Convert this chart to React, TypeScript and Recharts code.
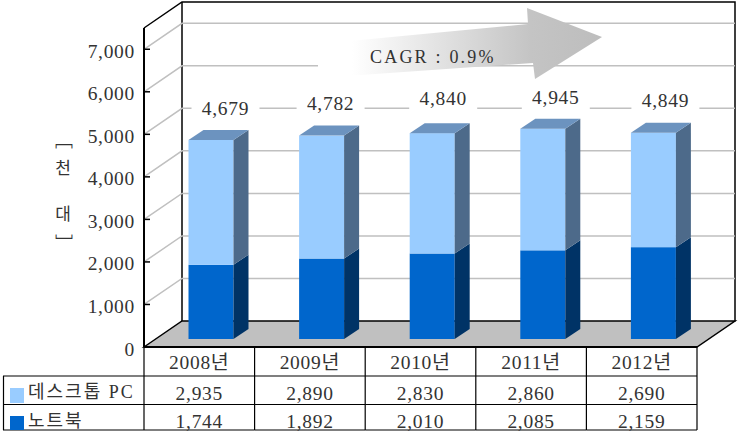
import React from "react";
import { BarChart, Bar, XAxis, YAxis, ReferenceLine, LabelList } from "recharts";

const years = ["2008년", "2009년", "2010년", "2011년", "2012년"];
const desktop = [2935, 2890, 2830, 2860, 2690];
const notebook = [1744, 1892, 2010, 2085, 2159];
const totals = [4679, 4782, 4840, 4945, 4849];
const yTicks = [0, 1000, 2000, 3000, 4000, 5000, 6000, 7000];
const gridTicks = [1000, 2000, 3000, 4000, 5000, 6000, 7000];
const seriesNames = ["데스크톱 PC", "노트북"];

const chartData = years.map((year, i) => ({ year, desktop: desktop[i], notebook: notebook[i] }));

const SERIF = '"Liberation Serif", "Noto Sans CJK KR", serif';
const KOREAN = '"Noto Sans CJK KR", sans-serif';
const TEXT = "#333";
const fmt = new Intl.NumberFormat("en-US");

// wall depth of the fake 3D box, bar position on the floor, bar depth
const WALL_X = 38;
const WALL_Y = 26;
const BAR_SHIFT_X = 11.5;
const BAR_SHIFT_Y = 8;
const BAR_DEPTH_X = 15;
const BAR_DEPTH_Y = 10;
// the total labels were placed by hand in the original
const labelNudgeX = [14.5, 9, 11, 13, 12];
const labelNudgeY = [31, 32, 35, 31, 32];

function box3d(front: string, side: string, top?: string) {
  return function Box(props: any) {
    const x = props.x + BAR_SHIFT_X;
    const y = props.y - BAR_SHIFT_Y;
    const { width: w, height: h } = props;
    const dx = BAR_DEPTH_X;
    const dy = BAR_DEPTH_Y;
    return (
      <g>
        <rect x={x} y={y} width={w} height={h} fill={front} />
        <polygon points={`${x + w},${y} ${x + w + dx},${y - dy} ${x + w + dx},${y + h - dy} ${x + w},${y + h}`} fill={side} />
        {top && <polygon points={`${x},${y} ${x + dx},${y - dy} ${x + w + dx},${y - dy} ${x + w},${y}`} fill={top} />}
      </g>
    );
  };
}

function Wall(props: any) {
  const { x1, x2, y1 } = props;
  return (
    <polygon
      points={`${x1},${y1} ${x1 + WALL_X},${y1 - WALL_Y} ${x2 + WALL_X},${y1 - WALL_Y} ${x2},${y1}`}
      fill="#c0c0c0"
      stroke="#000"
      strokeWidth={1.5}
    />
  );
}

function Frame(props: any) {
  const { x1, x2, y1 } = props;
  const bottom = y1 + 319.5;
  return (
    <g fill="none" stroke="#000">
      <path d={`M${x1},${y1} L${x1 + WALL_X},${y1 - WALL_Y} L${x2 + WALL_X},${y1 - WALL_Y} L${x2 + WALL_X},${bottom - WALL_Y}`} strokeWidth={1.5} />
      <path d={`M${x1 + WALL_X},${y1 - WALL_Y} L${x1 + WALL_X},${bottom - WALL_Y}`} strokeWidth={1.5} />
    </g>
  );
}

function GridLine(props: any) {
  const { x1, x2, y1 } = props;
  return (
    <polyline
      points={`${x1},${y1} ${x1 + WALL_X},${y1 - WALL_Y} ${x2 + WALL_X},${y1 - WALL_Y}`}
      fill="none"
      stroke="#c0c0c0"
      strokeWidth={1.5}
    />
  );
}

function YTick({ x, y, payload }: any) {
  return (
    <g>
      <line x1={x} x2={x + 6} y1={y} y2={y} stroke="#000" strokeWidth={1.5} />
      <text x={x - 9} y={y + 2} textAnchor="end" dominantBaseline="central" fontFamily={SERIF} fontSize={19.5} letterSpacing={0.7} fill={TEXT}>
        {fmt.format(payload.value)}
      </text>
    </g>
  );
}

function TableTick({ x, y, payload, index }: any) {
  const cell = 110.6;
  const left = x - cell / 2;
  const rows = [y + 29, y + 57.5, y + 83];
  const stroke = { stroke: "#000", strokeWidth: 1.2 };
  const textProps = { x, textAnchor: "middle" as const, dominantBaseline: "central" as const, fontFamily: SERIF, fontSize: 19.5, letterSpacing: 0.7, fill: TEXT };
  return (
    <g>
      <line x1={left} x2={left + cell} y1={rows[0]} y2={rows[0]} {...stroke} />
      <line x1={left} x2={left + cell} y1={rows[1]} y2={rows[1]} {...stroke} />
      <line x1={left} x2={left + cell} y1={rows[2]} y2={rows[2]} {...stroke} />
      <line x1={left + cell} x2={left + cell} y1={y} y2={rows[2]} {...stroke} />
      {index === 0 && (
        <g>
          <line x1={left} x2={left} y1={y} y2={rows[2]} {...stroke} />
          <line x1={3} x2={left} y1={rows[0]} y2={rows[0]} {...stroke} />
          <line x1={3} x2={left} y1={rows[1]} y2={rows[1]} {...stroke} />
          <line x1={3} x2={left} y1={rows[2]} y2={rows[2]} {...stroke} />
          <line x1={3.5} x2={3.5} y1={rows[0]} y2={rows[2]} {...stroke} />
          <rect x={10} y={y + 41} width={14} height={15} fill="#99ccff" />
          <rect x={10} y={y + 69} width={14} height={14} fill="#0066cc" />
          <text x={28} y={y + 45} dominantBaseline="central" fontFamily={SERIF} fontSize={18} letterSpacing={2} fill={TEXT}>
            {seriesNames[0]}
          </text>
          <text x={28} y={y + 74} dominantBaseline="central" fontFamily={SERIF} fontSize={18} letterSpacing={2} fill={TEXT}>
            {seriesNames[1]}
          </text>
        </g>
      )}
      <text {...textProps} y={y + 15}>{payload.value}</text>
      <text {...textProps} y={y + 46}>{fmt.format(desktop[index])}</text>
      <text {...textProps} y={y + 74}>{fmt.format(notebook[index])}</text>
    </g>
  );
}

function TotalLabel({ x, y, width, index }: any) {
  const cx = x + BAR_SHIFT_X + width / 2 + labelNudgeX[index];
  const cy = y - BAR_SHIFT_Y - labelNudgeY[index];
  return (
    <g>
      <rect x={cx - 34} y={cy - 13} width={68} height={26} fill="#fff" />
      <text x={cx} y={cy} textAnchor="middle" dominantBaseline="central" fontFamily={SERIF} fontSize={19.5} letterSpacing={0.7} fill={TEXT}>
        {fmt.format(totals[index])}
      </text>
    </g>
  );
}

function AxisTitle() {
  return (
    <g fill={TEXT} textAnchor="middle" dominantBaseline="central" fontFamily={KOREAN}>
      <text x={64} y={138.5} fontSize={18}>﹇</text>
      <text x={63} y={166} fontSize={17}>천</text>
      <text x={63} y={212} fontSize={17}>대</text>
      <text x={64} y={242} fontSize={18}>﹈</text>
    </g>
  );
}

export default function App() {
  return (
    <div style={{ position: "absolute", left: 0, top: 0, width: 738, height: 434, background: "#fff" }}>
      <BarChart
        width={738}
        height={434}
        data={chartData}
        margin={{ top: 28, right: 41, bottom: 0, left: 84 }}
        barSize={45}
        style={{ position: "absolute", left: 0, top: 0 }}
      >
        <ReferenceLine y={7500} shape={Frame} zIndex={-50} />
        {gridTicks.map((t) => (
          <ReferenceLine key={t} y={t} shape={GridLine} zIndex={-50} />
        ))}
        <ReferenceLine y={0} shape={Wall} zIndex={-50} />
        <XAxis
          dataKey="year"
          height={87}
          tickSize={0}
          tickMargin={0}
          interval={0}
          tick={<TableTick />}
          axisLine={{ stroke: "#000", strokeWidth: 2 }}
          tickLine={false}
        />
        <YAxis
          width={60}
          domain={[0, 7500]}
          ticks={yTicks}
          tick={<YTick />}
          tickSize={0}
          tickMargin={0}
          tickLine={false}
          axisLine={{ stroke: "#000", strokeWidth: 2 }}
        />
        <Bar dataKey="notebook" stackId="a" isAnimationActive={false} shape={box3d("#0066cc", "#003366")} />
        <Bar dataKey="desktop" stackId="a" isAnimationActive={false} shape={box3d("#99ccff", "#4d6a8a", "#6c93bf")}>
          <LabelList dataKey="desktop" content={<TotalLabel />} />
        </Bar>
      </BarChart>
      <svg width={738} height={434} style={{ position: "absolute", left: 0, top: 0, pointerEvents: "none" }}>
        <defs>
          <linearGradient id="cagrFill" x1="0" x2="1" y1="0" y2="0">
            <stop offset="0" stopColor="#ffffff" />
            <stop offset="0.12" stopColor="#ffffff" />
            <stop offset="0.75" stopColor="#c4c4c4" />
            <stop offset="1" stopColor="#bdbdbd" />
          </linearGradient>
        </defs>
        <polygon points="318,44 528,24 527,8 602,37 535,79 533,63 318,78" fill="url(#cagrFill)" />
        <text x={370} y={57} dominantBaseline="central" fontFamily={SERIF} fontSize={18} letterSpacing={2.2} fill={TEXT}>
          CAGR : 0.9%
        </text>
        <AxisTitle />
      </svg>
    </div>
  );
}
